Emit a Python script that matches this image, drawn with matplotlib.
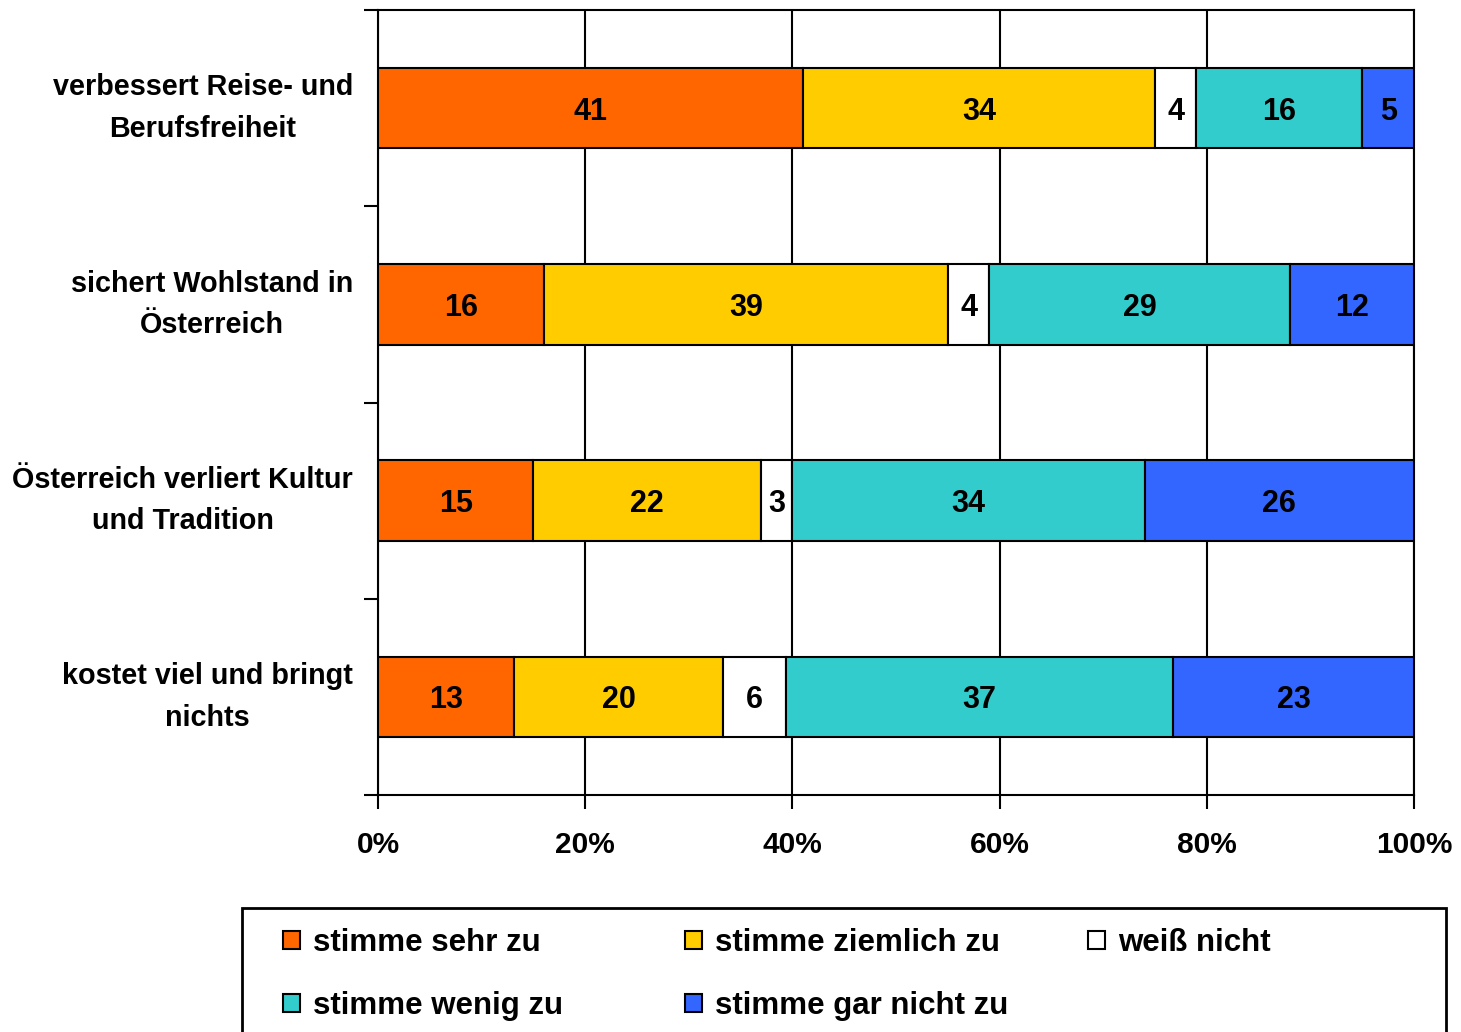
import matplotlib.pyplot as plt
import matplotlib.transforms as mtransforms
import numpy as np
from matplotlib.patches import Rectangle

plt.rcParams['font.family'] = ['Liberation Sans', 'DejaVu Sans']
plt.rcParams['font.weight'] = 'bold'

categories = ['verbessert Reise- und\nBerufsfreiheit',
              'sichert Wohlstand in\nÖsterreich',
              'Österreich verliert Kultur\nund Tradition',
              'kostet viel und bringt\nnichts']
series = ['stimme sehr zu', 'stimme ziemlich zu', 'weiß nicht',
          'stimme wenig zu', 'stimme gar nicht zu']
colors = ['#FF6600', '#FFCC00', '#FFFFFF', '#33CCCC', '#3366FF']

sehr = [41, 16, 15, 13]
ziemlich = [34, 39, 22, 20]
weiss = [4, 4, 3, 6]
wenig = [16, 29, 34, 37]
gar_nicht = [5, 12, 26, 23]
xticks = [0, 20, 40, 60, 80, 100]

fig = plt.figure(figsize=(14.61, 10.32), dpi=100)
ax = fig.add_axes([378 / 1461, 1 - 795 / 1032, 1036 / 1461, 785 / 1032])

values = np.array([sehr, ziemlich, weiss, wenig, gar_nicht], dtype=float)
shares = values / values.sum(axis=0) * 100  # 100% gestapelt
y = np.arange(len(categories))
left = np.zeros(len(categories))
handles = []
for i in range(len(series)):
    bars = ax.barh(y, shares[i], left=left, height=0.41, color=colors[i],
                   edgecolor='black', linewidth=1.5, label=series[i], zorder=3)
    txts = ax.bar_label(bars, labels=[str(int(v)) for v in values[i]],
                        label_type='center', fontsize=22, fontweight='bold')
    for t in txts:
        t.set_verticalalignment('center_baseline')
    handles.append(bars)
    left += shares[i]

ax.set_xlim(0, 100)
ax.set_ylim(3.5, -0.5)
ax.set_xticks(xticks)
ax.set_xticklabels(['{}%'.format(v) for v in xticks], fontsize=21.5)
ax.xaxis.grid(True, color='black', linewidth=1.5)
ax.set_axisbelow(True)
ax.set_yticks(y)
ax.set_yticklabels([])
ax.tick_params(axis='y', which='major', length=0)
ax.set_yticks([-0.5, 0.5, 1.5, 2.5, 3.5], minor=True)
ax.tick_params(axis='y', which='minor', length=10, width=1.5)
ax.tick_params(axis='x', length=10, width=1.5, pad=16)
for s in ax.spines.values():
    s.set_linewidth(1.5)
    s.set_color('black')

# Kategorienamen als Text links der Achse
trans = mtransforms.blended_transform_factory(ax.transAxes, ax.transData)
trans = trans + mtransforms.ScaledTranslation(-25 / 100, 0, fig.dpi_scale_trans)
for yi, cat in zip(y, categories):
    ax.text(0, yi, cat, transform=trans, ha='right', va='center',
            multialignment='center', fontsize=20.7, linespacing=1.62)

# Legende zeilenweise: drei Spalten als einzelne Legenden
columns = [[0, 3], [1, 4], [2]]
col_x = [283, 685, 1088]
for idx, cx in zip(columns, col_x):
    fig.legend([handles[i] for i in idx], [series[i] for i in idx],
               loc='upper left', bbox_to_anchor=(cx / 1461, 1 - 928 / 1032),
               frameon=False, fontsize=22.5, borderpad=0, borderaxespad=0,
               handlelength=0.55, handleheight=0.55, handletextpad=0.4,
               labelspacing=1.06)
fig.add_artist(Rectangle((242 / 1461, -0.1), 1204 / 1461, 0.1 + 1 - 908 / 1032,
                         transform=fig.transFigure, fill=False,
                         edgecolor='black', linewidth=2))

plt.savefig('out.png', dpi=100)
